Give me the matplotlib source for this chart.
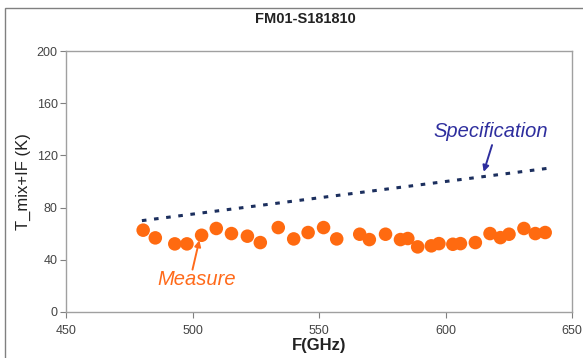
import matplotlib
matplotlib.use("Agg")
import matplotlib.pyplot as plt
from matplotlib.patches import Rectangle

plt.rcParams['font.family'] = ['Liberation Sans', 'DejaVu Sans']

freq = [480.5, 485.3, 493.0, 497.8, 503.6, 509.4, 515.4, 521.7, 526.8, 533.9,
        540.0, 545.7, 551.8, 557.0, 566.1, 569.9, 576.3, 582.2, 585.1, 589.0,
        594.4, 597.4, 602.9, 605.9, 611.8, 617.6, 621.7, 625.1, 631.0, 635.5, 639.4]
tmix = [62.7, 56.8, 52.2, 52.2, 58.8, 64.0, 60.1, 58.1, 53.2, 64.7,
        56.0, 60.9, 64.7, 56.0, 59.6, 55.5, 59.6, 55.5, 56.3, 49.9,
        50.7, 52.4, 51.9, 52.4, 53.2, 60.1, 57.0, 59.6, 64.0, 60.1, 60.9]
spec_f = [480, 640]
spec_t = [70, 110]
xticks = [450, 500, 550, 600, 650]
yticks = [0, 40, 80, 120, 160, 200]

fig = plt.figure(figsize=(5.83, 3.58), dpi=100)
ax = fig.add_axes([66/583, 1-312/358, (572-66)/583, (312-51)/358])

fig.patches.append(Rectangle((5/583, -0.2), 1.2, 1.2 - 8/358,
                             transform=fig.transFigure, fill=False,
                             edgecolor='#808080', linewidth=1.0, zorder=-1))

ax.plot(spec_f, spec_t, color='#1c2f5e', linewidth=2.2, linestyle=(0, (1.5, 2.5)), zorder=2)
ax.scatter(freq, tmix, s=95, color='#ff6a10', edgecolors='none', zorder=3)

ax.set_xlim(450, 650)
ax.set_ylim(0, 200)
ax.set_xticks(xticks)
ax.set_yticks(yticks)
ax.tick_params(axis='both', direction='out', length=4, width=0.8, colors='#808080',
               labelcolor='#444444', labelsize=9, pad=2)
ax.tick_params(axis='x', pad=5)
for s in ax.spines.values():
    s.set_color('#a0a0a0')
    s.set_linewidth(1.0)

ax.set_xlabel('F(GHz)', fontsize=12, fontweight='bold', color='#222222', labelpad=1)
ax.set_ylabel('T_mix+IF (K)', fontsize=12, color='#222222', labelpad=4)
fig.text(305/583, 1-19/358, 'FM01-S181810', ha='center', va='center',
         fontsize=10.5, fontweight='bold', color='#222222')

ax.text(617.7, 138.1, 'Specification', ha='center', va='center', fontsize=14.5,
        style='italic', color='#2e2e9e')
ax.annotate('', xy=(615.1, 107.4), xytext=(618.4, 127.9),
            arrowprops=dict(arrowstyle='-|>', color='#2e2e9e', lw=1.4,
                            mutation_scale=9, shrinkA=0, shrinkB=0))
ax.text(501.6, 24.8, 'Measure', ha='center', va='center', fontsize=14.5,
        style='italic', color='#ff6a1a')
ax.annotate('', xy=(502.7, 55.0), xytext=(500.0, 32.5),
            arrowprops=dict(arrowstyle='-|>', color='#ff6a1a', lw=1.4,
                            mutation_scale=9, shrinkA=0, shrinkB=0))

fig.savefig('out.png', dpi=100)
